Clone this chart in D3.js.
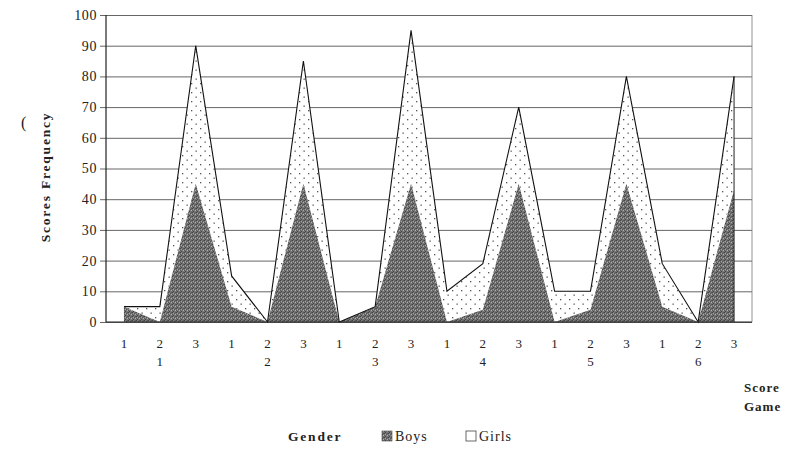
<!DOCTYPE html>
<html>
<head>
<meta charset="utf-8">
<style>
  body { margin: 0; background: #fff; }
  svg text { font-family: "Liberation Serif", "DejaVu Serif", serif; fill: #222; }
</style>
</head>
<body>
<div id="chart"></div>
<script src="https://cdn.jsdelivr.net/npm/d3@7"></script>
<script>
// data
var games = ["1", "2", "3", "4", "5", "6"];
var scores = ["1", "2", "3"];
var boys  = [5, 0, 45,  5, 0, 45,  0, 5, 45,  0, 4, 45,  0, 4, 45,  5, 0, 43];
var girls = [0, 5, 45, 10, 0, 40,  0, 0, 50, 10, 15, 25, 10, 6, 35, 14, 0, 37];
var yTicks = [0, 10, 20, 30, 40, 50, 60, 70, 80, 90, 100];

var width = 787, height = 450;
var plotLeft = 106, plotRight = 752, plotTop = 15, plotBottom = 322;

var rows = [];
games.forEach(function (g, gi) {
  scores.forEach(function (s, si) {
    var i = gi * scores.length + si;
    rows.push({ idx: i, game: g, score: s, boys: boys[i], girls: girls[i] });
  });
});

var svg = d3.select("#chart").append("svg")
    .attr("width", width)
    .attr("height", height);

// fills: dark noisy grey for boys, dotted for girls
var defs = svg.append("defs");
var pb = defs.append("pattern").attr("id", "boysFill")
    .attr("patternUnits", "userSpaceOnUse").attr("width", 4).attr("height", 4);
pb.append("rect").attr("width", 4).attr("height", 4).attr("fill", "#767676");
[[0, 0, "#444"], [2, 1, "#505050"], [1, 3, "#444"], [3, 2, "#b0b0b0"], [1, 1, "#a4a4a4"], [3, 0, "#585858"], [0, 2, "#5a5a5a"]]
  .forEach(function (p) {
    pb.append("rect").attr("x", p[0]).attr("y", p[1]).attr("width", 1).attr("height", 1).attr("fill", p[2]);
  });

var pg = defs.append("pattern").attr("id", "girlsFill")
    .attr("patternUnits", "userSpaceOnUse").attr("width", 9).attr("height", 9);
pg.append("rect").attr("width", 9).attr("height", 9).attr("fill", "#fff");
pg.append("rect").attr("x", 2).attr("y", 2).attr("width", 1.3).attr("height", 1.3).attr("fill", "#555");
pg.append("rect").attr("x", 6.5).attr("y", 6.5).attr("width", 1.3).attr("height", 1.3).attr("fill", "#555");

var x = d3.scaleBand().domain(d3.range(rows.length)).range([plotLeft, plotRight]);
var y = d3.scaleLinear().domain([0, 100]).range([plotBottom, plotTop]);
var cx = function (i) { return x(i) + x.bandwidth() / 2; };

// gridlines + y axis
var yAxis = d3.axisLeft(y).tickValues(yTicks).tickSize(6).tickPadding(4);
var gy = svg.append("g")
    .attr("transform", "translate(" + plotLeft + ",0)")
    .call(yAxis);
gy.select(".domain").remove();
gy.selectAll(".tick line")
    .attr("x1", -6)
    .attr("x2", plotRight - plotLeft)
    .attr("stroke", "#555")
    .attr("stroke-width", 0.9);
gy.selectAll(".tick text")
    .attr("x", -9)
    .attr("font-size", 14)
    .attr("letter-spacing", 0.6)
    .attr("font-family", "Liberation Serif, serif")
    .attr("fill", "#222");

// stacked areas
var stack = d3.stack().keys(["boys", "girls"]);
var series = stack(rows);

var area = d3.area()
    .x(function (d) { return cx(d.data.idx); })
    .y0(function (d) { return y(d[0]); })
    .y1(function (d) { return y(d[1]); });

svg.append("path")
    .datum(series[1])
    .attr("d", area)
    .attr("fill", "url(#girlsFill)");

svg.append("path")
    .datum(series[0])
    .attr("d", area)
    .attr("fill", "url(#boysFill)");

// outline of the total
var line = d3.line()
    .x(function (d) { return cx(d.data.idx); })
    .y(function (d) { return y(d[1]); });
svg.append("path")
    .datum(series[1])
    .attr("d", line)
    .attr("fill", "none")
    .attr("stroke", "#111")
    .attr("stroke-width", 1.1);

var last = series[1][series[1].length - 1];
svg.append("line")
    .attr("x1", cx(last.data.idx)).attr("x2", cx(last.data.idx))
    .attr("y1", y(0)).attr("y2", y(last[1]))
    .attr("stroke", "#222").attr("stroke-width", 1);

// frame
svg.append("line").attr("x1", plotLeft).attr("x2", plotLeft).attr("y1", plotTop).attr("y2", plotBottom)
    .attr("stroke", "#222").attr("stroke-width", 1.2);
svg.append("line").attr("x1", plotLeft).attr("x2", plotRight).attr("y1", plotBottom).attr("y2", plotBottom)
    .attr("stroke", "#222").attr("stroke-width", 1.2);
svg.append("line").attr("x1", plotRight).attr("x2", plotRight).attr("y1", plotTop).attr("y2", plotBottom)
    .attr("stroke", "#777").attr("stroke-width", 0.8);

// x labels: score then game
svg.append("g").selectAll("text")
    .data(rows)
    .enter().append("text")
    .attr("x", function (d) { return cx(d.idx); })
    .attr("y", 348)
    .attr("text-anchor", "middle")
    .attr("font-size", 13)
    .text(function (d) { return d.score; });

svg.append("g").selectAll("text")
    .data(games)
    .enter().append("text")
    .attr("x", function (d, i) { return cx(i * scores.length + 1); })
    .attr("y", 366)
    .attr("text-anchor", "middle")
    .attr("font-size", 13)
    .text(function (d) { return d; });

svg.append("text").attr("x", 744).attr("y", 392)
    .attr("font-size", 13).attr("font-weight", "bold").attr("letter-spacing", 1)
    .text("Score");
svg.append("text").attr("x", 744).attr("y", 411)
    .attr("font-size", 13).attr("font-weight", "bold").attr("letter-spacing", 1)
    .text("Game");

// y title
svg.append("text")
    .attr("transform", "translate(50,177) rotate(-90)")
    .attr("text-anchor", "middle")
    .attr("font-size", 13.5)
    .attr("font-weight", "bold")
    .attr("letter-spacing", 1.8)
    .text("Scores Frequency");

svg.append("text").attr("x", 21).attr("y", 128).attr("font-size", 16).text("(");

// legend
var lg = svg.append("g").attr("transform", "translate(0,441)");
lg.append("text").attr("x", 288).attr("y", 0).attr("font-size", 13.5)
    .attr("font-weight", "bold").attr("letter-spacing", 1.8).text("Gender");
lg.append("rect").attr("x", 382).attr("y", -10).attr("width", 10).attr("height", 10)
    .attr("fill", "url(#boysFill)").attr("stroke", "#444").attr("stroke-width", 0.6);
lg.append("text").attr("x", 395).attr("y", 0).attr("font-size", 14).attr("letter-spacing", 1).text("Boys");
lg.append("rect").attr("x", 466).attr("y", -10).attr("width", 10).attr("height", 10)
    .attr("fill", "#fff").attr("stroke", "#444").attr("stroke-width", 0.8);
lg.append("text").attr("x", 479).attr("y", 0).attr("font-size", 14).attr("letter-spacing", 1).text("Girls");
</script>
</body>
</html>
